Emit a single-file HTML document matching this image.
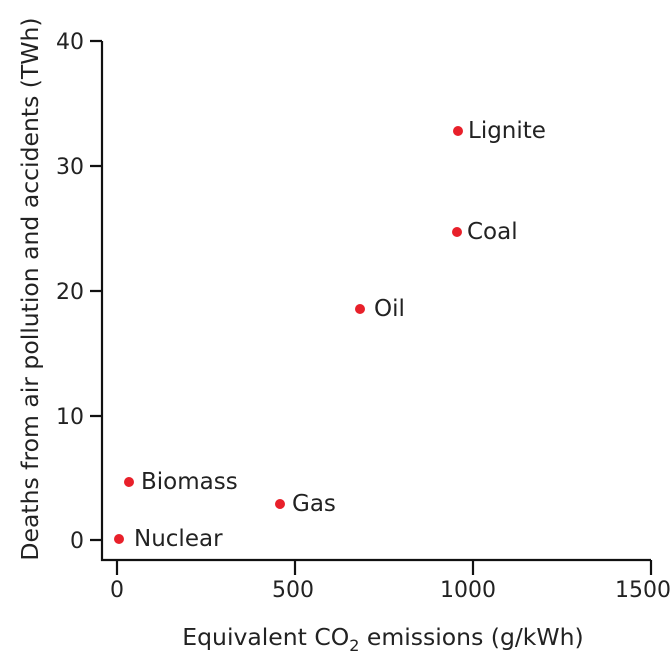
<!DOCTYPE html>
<html><head><style>
html,body{margin:0;padding:0;background:#fff;}
svg{display:block;}
text{font-family:"DejaVu Sans","Liberation Sans",sans-serif;fill:#222;}
</style></head><body>
<svg width="672" height="670" viewBox="0 0 672 670" xmlns="http://www.w3.org/2000/svg">
<g stroke="#111" stroke-width="2.2" fill="none">
<path d="M102,41 V560 H651"/>
<path d="M90,41 H102 M90,166 H102 M90,291 H102 M90,416 H102 M90,540 H102"/>
<path d="M117,560 V575 M295,560 V575 M473,560 V575 M651,560 V575"/>
</g>
<g font-size="22" text-anchor="end">
<text x="84" y="49">40</text>
<text x="84" y="174">30</text>
<text x="84" y="299">20</text>
<text x="84" y="424">10</text>
<text x="84" y="548">0</text>
</g>
<g font-size="22" text-anchor="middle">
<text x="117" y="597">0</text>
<text x="293" y="597">500</text>
<text x="468" y="597">1000</text>
<text x="643" y="597">1500</text>
</g>
<text x="383" y="645" font-size="23.5" text-anchor="middle">Equivalent CO<tspan font-size="16" dy="6">2</tspan><tspan dy="-6"> emissions (g/kWh)</tspan></text>
<text transform="translate(38,289) rotate(-90)" font-size="23.5" text-anchor="middle">Deaths from air pollution and accidents (TWh)</text>
<g fill="#e8202a">
<circle cx="458" cy="131" r="5"/>
<circle cx="457" cy="232" r="5"/>
<circle cx="360" cy="309" r="5"/>
<circle cx="129" cy="482" r="5"/>
<circle cx="280" cy="504" r="5"/>
<circle cx="119" cy="539" r="5"/>
</g>
<g font-size="23">
<text x="468" y="138">Lignite</text>
<text x="467" y="239">Coal</text>
<text x="374" y="316">Oil</text>
<text x="141" y="489">Biomass</text>
<text x="292" y="511">Gas</text>
<text x="134" y="546">Nuclear</text>
</g>
</svg>
</body></html>
